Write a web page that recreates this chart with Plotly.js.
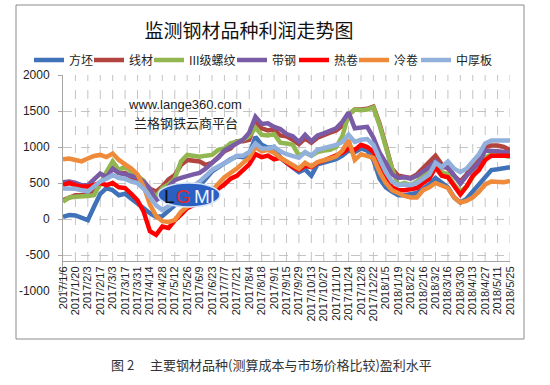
<!DOCTYPE html>
<html><head><meta charset="utf-8">
<script src="https://cdn.plot.ly/plotly-3.0.1.min.js"></script>
<style>html,body{margin:0;padding:0;background:#fff;}#chart{width:550px;height:385px;}</style>
</head><body><div id="chart"></div>
<script>
const dates = ["2017/1/6","2017/1/13","2017/1/20","2017/1/27","2017/2/3","2017/2/10","2017/2/17","2017/2/24","2017/3/3","2017/3/10","2017/3/17","2017/3/24","2017/3/31","2017/4/7","2017/4/14","2017/4/21","2017/4/28","2017/5/5","2017/5/12","2017/5/19","2017/5/26","2017/6/2","2017/6/9","2017/6/16","2017/6/23","2017/6/30","2017/7/7","2017/7/14","2017/7/21","2017/7/28","2017/8/4","2017/8/11","2017/8/18","2017/8/25","2017/9/1","2017/9/8","2017/9/15","2017/9/22","2017/9/29","2017/10/6","2017/10/13","2017/10/20","2017/10/27","2017/11/3","2017/11/10","2017/11/17","2017/11/24","2017/12/1","2017/12/8","2017/12/15","2017/12/22","2017/12/29","2018/1/5","2018/1/12","2018/1/19","2018/1/26","2018/2/2","2018/2/9","2018/2/16","2018/2/23","2018/3/2","2018/3/9","2018/3/16","2018/3/23","2018/3/30","2018/4/6","2018/4/13","2018/4/20","2018/4/27","2018/5/4","2018/5/11","2018/5/18","2018/5/25"];

const seriesNames = ["方坯","线材","III级螺纹","带钢","热卷","冷卷","中厚板"];

const fangpi = [30,55,50,10,-15,170,350,430,400,330,350,280,220,150,80,30,40,125,190,230,280,360,450,560,660,720,770,830,870,860,900,1140,1030,990,1000,850,780,720,650,690,600,760,780,800,830,880,950,930,980,950,820,560,440,380,330,330,340,360,420,480,570,500,440,300,230,280,380,480,600,680,690,700,720];
const xiancai = [260,290,330,330,340,380,480,600,700,640,640,580,540,500,420,380,450,550,610,750,820,810,800,750,780,860,940,980,1080,1080,1100,1340,1260,1230,1250,1160,1150,1100,1040,1120,1060,1130,1170,1200,1230,1300,1450,1520,1520,1530,1560,1320,1020,700,600,590,570,620,700,800,880,760,700,600,520,620,750,850,1000,1020,1020,1000,960];
const luowen = [240,300,310,310,320,330,500,650,800,680,730,650,600,530,400,310,430,480,560,800,890,880,865,880,890,960,980,1050,1080,1100,1150,1270,1170,1160,1180,1060,1050,1030,880,920,880,930,950,960,1000,1150,1450,1520,1510,1520,1550,1300,1000,700,470,500,470,520,600,680,760,650,620,480,380,450,580,700,850,900,900,880,860];
const daigang = [510,520,500,470,470,560,630,580,700,640,620,600,580,520,420,260,320,450,540,570,600,620,640,700,780,850,950,1000,1050,1100,1200,1420,1320,1330,1280,1250,1180,1150,1070,1170,1080,1160,1190,1230,1260,1350,1480,1260,1270,1280,1130,920,780,620,570,580,560,600,660,720,800,720,720,600,490,600,700,780,950,950,940,930,920];
const rejuan = [470,500,470,450,450,470,500,470,500,440,430,350,260,100,-170,-220,-105,-125,-20,60,150,190,220,260,330,420,480,560,600,680,760,900,860,880,830,850,790,720,680,740,720,780,810,850,880,920,980,960,1030,1000,930,750,600,440,400,400,420,430,500,560,720,600,580,450,340,450,600,680,820,880,880,870,880];
const lengjuan = [830,840,820,800,840,875,890,860,910,820,760,700,620,450,200,40,-30,-40,-15,100,170,200,240,300,400,480,580,640,700,780,850,1000,940,960,920,850,800,740,700,780,730,790,810,840,870,950,1100,820,900,880,850,650,500,400,360,320,300,300,400,440,500,460,430,300,230,250,300,380,480,520,510,510,530];
const zhonghouban = [425,430,420,400,380,450,520,560,610,570,560,520,500,420,300,190,125,170,230,330,420,460,520,600,680,730,770,820,880,880,930,1050,980,980,1000,940,900,880,850,930,880,960,980,1000,1030,1070,1170,1070,1100,1110,1030,830,650,520,470,480,470,500,560,620,780,720,800,700,650,700,800,900,1050,1090,1090,1090,1090];

const seriesValues = [fangpi, xiancai, luowen, daigang, rejuan, lengjuan, zhonghouban];
const colors = ["#3F72B8","#B2433F","#92B650","#7A5CA6","#FF0000","#EE8A3A","#92B0DC"];
const legendLeft = [29, 89, 149, 232, 294, 354, 416];

const tickDates = dates.filter((d,i)=>i%2===0);
const yTicks = [-1000,-500,0,500,1000,1500,2000];

const legendKeys = seriesNames.map((n,k)=> k===0 ? 'legend' : 'legend'+(k+1));

const traces = seriesNames.map((n,k)=>({
  type:'scatter', mode:'lines', name:n, x:dates, y:seriesValues[k],
  legend:legendKeys[k],
  line:{color:colors[k], width:4.5}, hoverinfo:'skip'
}));

const L=63, R=510, T=75, B=291;
const pw=R-L, ph=B-T;
const px = v => (v-L)/pw;
const py = v => (B-v)/ph;
const axisPos = py(261);

const shapes = [];
dates.forEach((d,i)=>{ if(i%2===0 && i>0) shapes.push({type:'line',xref:'x',yref:'paper',x0:i,x1:i,y0:axisPos,y1:1,line:{color:'#C4C4C4',width:1,dash:'dash'},layer:'below'}); });
shapes.push({type:'rect',xref:'paper',yref:'paper',x0:px(16),x1:px(524),y0:py(339),y1:py(5),line:{color:'#8C8C8C',width:1},fillcolor:'rgba(0,0,0,0)',layer:'below'});
shapes.push({type:'circle',xref:'paper',yref:'paper',x0:px(158),x1:px(220),y0:py(207),y1:py(183),fillcolor:'#2A60C2',line:{color:'#D6E4F7',width:1.5},layer:'above'});

const logoFont = {family:'Liberation Sans', size:19};
const ann = (x,y,text,font) => ({xref:'paper',yref:'paper',x:px(x),y:py(y),xanchor:'center',yanchor:'middle',text:text,showarrow:false,font:font});
const layout = {
  width:550, height:385,
  margin:{l:L, r:550-R, t:T, b:385-B, pad:0, autoexpand:false},
  paper_bgcolor:'#fff', plot_bgcolor:'#fff',
  showlegend:true,
  title:{text:'监测钢材品种利润走势图', x:249/550, xref:'container', xanchor:'center', y:1-31/385, yref:'container', yanchor:'middle', font:{family:'Noto Sans CJK SC', size:19, color:'#111'}},
  xaxis:{type:'category', range:[0,72], anchor:'free', position:axisPos, showgrid:false, zeroline:false,
    showline:true, linecolor:'#A6A6A6', linewidth:1,
    tickmode:'array', tickvals:tickDates, ticktext:tickDates, tickangle:-90, ticks:'',
    tickfont:{family:'Liberation Sans', size:11, color:'#222'}, fixedrange:true},
  yaxis:{range:[-1000,2000], tickmode:'array', tickvals:yTicks, ticktext:yTicks.map(String),
    showgrid:true, gridcolor:'#C4C4C4', griddash:'dash', gridwidth:1, zeroline:false,
    showline:true, linecolor:'#A6A6A6', linewidth:1, ticks:'outside', ticklen:4, tickcolor:'#A6A6A6',
    ticklabelstandoff:6,
    tickfont:{family:'Liberation Sans', size:12, color:'#222'}, fixedrange:true},
  shapes:shapes,
  annotations:[
    ann(185,105,'www.lange360.com',{family:'Liberation Sans',size:13,color:'#222'}),
    ann(186,122,'兰格钢铁云商平台',{family:'Noto Sans CJK SC',size:13,color:'#222'}),
    ann(169,196,'L',Object.assign({color:'#111'},logoFont)),
    ann(183,196,'G',Object.assign({color:'#E3262A'},logoFont)),
    ann(204,196,'MI',Object.assign({color:'#EEF3FB'},logoFont)),
    ann(271,364,'图 2　 主要钢材品种(测算成本与市场价格比较)盈利水平',{family:'Noto Sans CJK SC',size:13,color:'#333'})
  ]
};
legendKeys.forEach((key,k)=>{
  layout[key] = {orientation:'h', xref:'container', yref:'container', x:legendLeft[k]/550, xanchor:'left', y:1-60/385, yanchor:'middle',
    font:{family:'Noto Sans CJK SC', size:12, color:'#222'}, itemwidth:30, bgcolor:'rgba(0,0,0,0)', borderwidth:0};
});

Plotly.newPlot('chart', traces, layout, {displayModeBar:false, staticPlot:true});
</script>
</body></html>
